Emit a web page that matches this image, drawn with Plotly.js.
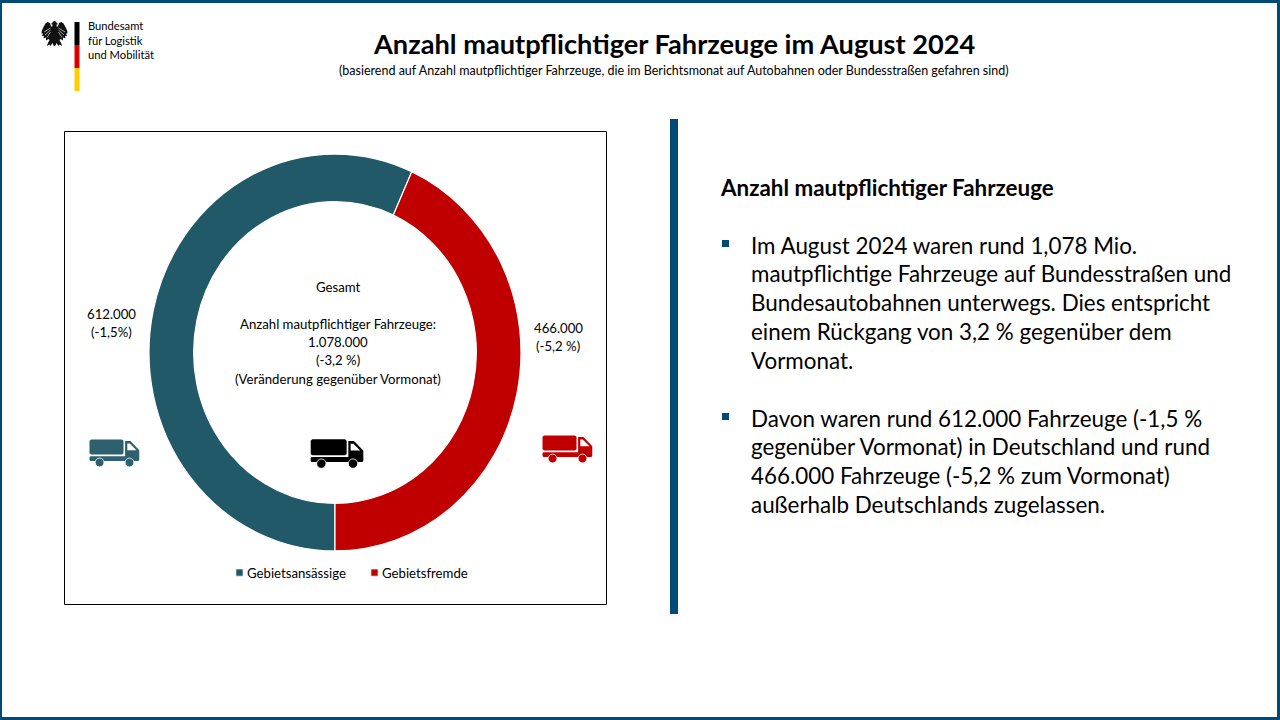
<!DOCTYPE html>
<html><head><meta charset="utf-8">
<script src="https://cdn.plot.ly/plotly-3.0.1.min.js"></script>
<style>html,body{margin:0;padding:0;background:#fff;overflow:hidden}#c{width:1280px;height:720px}</style>
</head><body><div id="c"></div>
<script>
const W=1280,H=720;
const categories=["Gebietsansässige","Gebietsfremde"];
const vehicles=[612000,466000];
const sliceColors=["#215968","#C00000"];
const titleText="Anzahl mautpflichtiger Fahrzeuge im August 2024";
const subtitleText="(basierend auf Anzahl mautpflichtiger Fahrzeuge, die im Berichtsmonat auf Autobahnen oder Bundesstraßen gefahren sind)";
const logoLines=["Bundesamt","für Logistik","und Mobilität"];
const centerLines=["Gesamt","Anzahl mautpflichtiger Fahrzeuge:","1.078.000","(-3,2 %)","(Veränderung gegenüber Vormonat)"];
const centerY=[287,324,342,360,379];
const sideLabels=[["612.000","(-1,5%)"],["466.000","(-5,2 %)"]];
const panelHeading="Anzahl mautpflichtiger Fahrzeuge";
const bullet1=["Im August 2024 waren rund 1,078 Mio.","mautpflichtige Fahrzeuge auf Bundesstraßen und","Bundesautobahnen unterwegs. Dies entspricht","einem Rückgang von 3,2 % gegenüber dem","Vormonat."];
const bullet2=["Davon waren rund 612.000 Fahrzeuge (-1,5 %","gegenüber Vormonat) in Deutschland und rund","466.000 Fahrzeuge (-5,2 % zum Vormonat)","außerhalb Deutschlands zugelassen."];
const F="Lato, 'Open Sans', sans-serif";
const fx=x=>x/W, fy=y=>1-y/H;
function txt(text,x,y,size,opt){opt=opt||{};return {text,x:fx(x),y:fy(y),xref:'paper',yref:'paper',showarrow:false,xanchor:opt.a||'left',yanchor:'middle',align:opt.a||'left',font:{family:opt.f||F,size,color:'#000',weight:opt.b?700:400}};}
function rect(x0,y0,x1,y1,fill,line,lw){return {type:'rect',xref:'paper',yref:'paper',x0:fx(x0),x1:fx(x1),y0:fy(y0),y1:fy(y1),fillcolor:fill||'rgba(0,0,0,0)',line:{color:line||'rgba(0,0,0,0)',width:lw||0},layer:'above'};}
function poly(pts,fill){let s=pts.map((p,i)=>(i?'L':'M')+fx(p[0]).toFixed(5)+','+fy(p[1]).toFixed(5)).join('')+'Z';return {type:'path',xref:'paper',yref:'paper',path:s,fillcolor:fill,line:{width:0,color:'rgba(0,0,0,0)'},layer:'above'};}
function circle(cx,cy,r,fill,lc,lw){return {type:'circle',xref:'paper',yref:'paper',x0:fx(cx-r),x1:fx(cx+r),y0:fy(cy+r),y1:fy(cy-r),fillcolor:fill,line:{color:lc||'rgba(0,0,0,0)',width:lw||0},layer:'above'};}
function seg(x0,y0,x1,y1,c,w){return {type:'line',xref:'paper',yref:'paper',x0:fx(x0),x1:fx(x1),y0:fy(y0),y1:fy(y1),line:{color:c,width:w},layer:'above'};}
function truck(x,y,s,c){
  const X=u=>x+u*s, Y=v=>y+v*s, P=a=>a.map(q=>[X(q[0]),Y(q[1])]);
  return [
   poly(P([[5,0],[103,0],[108,4],[108,44],[103,48],[5,48],[0,44],[0,4]]),c),
   poly(P([[3,53],[113,53],[113,5],[130,5],[158,34],[158,65],[155,68],[3,68],[0,65],[0,56]]),c),
   poly(P([[120,13],[128,13],[149,34],[120,34]]),'#fff'),
   circle(X(32),Y(73),14*s,c,'#fff',0.8),
   circle(X(127),Y(73),14*s,c,'#fff',0.8)
  ];
}
function eagle(){
  const k='#111', cx=54.5, y0=21;
  const L=[[1,0],[-1.5,0.5],[-2.5,2.5],[-4,2.8],[-2.2,3.6],[-2,5.5],[-3.5,5.5],[-4.5,2],[-7,1],[-9,2.5],[-11,6],[-12.8,10],[-13,12.5],[-11.5,12.5],[-12.5,15],[-10.5,15],[-11,17.5],[-8.5,16.5],[-8.5,19.5],[-6,18],[-5,19],[-7,23],[-7.5,25],[-5,23.5],[-4,25],[-2,22],[-1,24.5],[0,25]];
  const R=L.slice().reverse().map(p=>[cx-p[0],y0+p[1]]);
  const l=L.map(p=>[cx+p[0],y0+p[1]]);
  const out=[poly(l.concat(R),k)];
  [[-4,7,-10.5,11],[-4,9,-9.5,14],[-4,11,-7.5,16.5]].forEach(a=>{
    out.push(seg(cx+a[0],y0+a[1],cx+a[2],y0+a[3],'#fff',0.6));
    out.push(seg(cx-a[0],y0+a[1],cx-a[2],y0+a[3],'#fff',0.6));
  });
  return out;
}
const shapes=[
  rect(0,0,W,3,'#004B76'),rect(0,717,W,H,'#004B76'),rect(0,0,2,H,'#004B76'),rect(1277,0,W,H,'#004B76'),
  rect(64.5,131.5,606.5,604.5,null,'#000',1),
  rect(670,119,678,614,'#004B76'),
  rect(74.5,22,79.5,45,'#000'),rect(74.5,45,79.5,68,'#DD0000'),rect(74.5,68,79.5,91,'#FFCE00'),
  rect(722,240,729,247,'#004B76'),rect(722,413,729,420,'#004B76'),
  ...eagle(),
  ...truck(310.7,439.3,0.333,'#000'),
  ...truck(89.5,439.5,0.315,'#2F6070'),
  ...truck(542.5,435.5,0.315,'#C00000')
];
const ann=[
  txt(titleText,674,43.5,27.2,{a:'center',b:1}),
  txt(subtitleText,673.5,71,12.5,{a:'center'}),
  txt(logoLines.join('<br>'),85.5,40,11.2),
  ...centerLines.map((t,i)=>txt(t,338,centerY[i],13.2,{a:'center'})),
  txt(sideLabels[0][0],111,314,13.2,{a:'center'}),txt(sideLabels[0][1],111,332,13.2,{a:'center'}),
  txt(sideLabels[1][0],558,328,13.2,{a:'center'}),txt(sideLabels[1][1],558,346,13.2,{a:'center'}),
  txt(panelHeading,718,188,22.4,{b:1}),
  ...bullet1.map((t,i)=>txt(t,749,245+i*28.8,22.4)),
  ...bullet2.map((t,i)=>txt(t,749,418+i*28.8,22.4))
];
const cx=335,cy=352.5,rx=186,ry=198.5;
const trace={type:'pie',labels:categories,values:vehicles,sort:false,direction:'clockwise',rotation:180,hole:0.76,
  textinfo:'none',hoverinfo:'skip',marker:{colors:sliceColors,line:{color:'#fff',width:1.2}},
  domain:{x:[(cx-rx)/W,(cx+rx)/W],y:[1-(cy+rx)/H,1-(cy-rx)/H]}};
const layout={width:W,height:H,margin:{l:0,r:0,t:0,b:0},paper_bgcolor:'#fff',showlegend:true,
  legend:{orientation:'h',x:352/W,xanchor:'center',y:1-573/H,yanchor:'middle',font:{family:F,size:13.2,color:'#000'},bgcolor:'rgba(0,0,0,0)'},
  shapes,annotations:ann};
const legendSymbolX=[239.5,374.5], legendTextX=[247,382];
Plotly.newPlot('c',[trace],layout,{staticPlot:true,displayModeBar:false}).then(gd=>{
  const k=ry/rx;
  const pl=gd.querySelector('.pielayer');
  if(pl) pl.setAttribute('transform',`translate(0,${cy}) scale(1,${k}) translate(0,${-cy})`);
  gd.querySelectorAll('.legend .traces').forEach((g,i)=>{
    const t=g.querySelector('.legendtext');
    const dx=legendTextX[i]-t.getBoundingClientRect().left;
    t.setAttribute('x',(+t.getAttribute('x')||0)+dx);
    const p=g.querySelector('.legendpoints path');
    const r=p.getBoundingClientRect();
    const m=(p.getAttribute('transform')||'').match(/translate\(([-\d.]+)/);
    const local=(m?+m[1]:20)+legendSymbolX[i]-(r.left+r.right)/2;
    p.setAttribute('transform',`translate(${local},0) scale(0.6)`);
  });
});
</script></body></html>
